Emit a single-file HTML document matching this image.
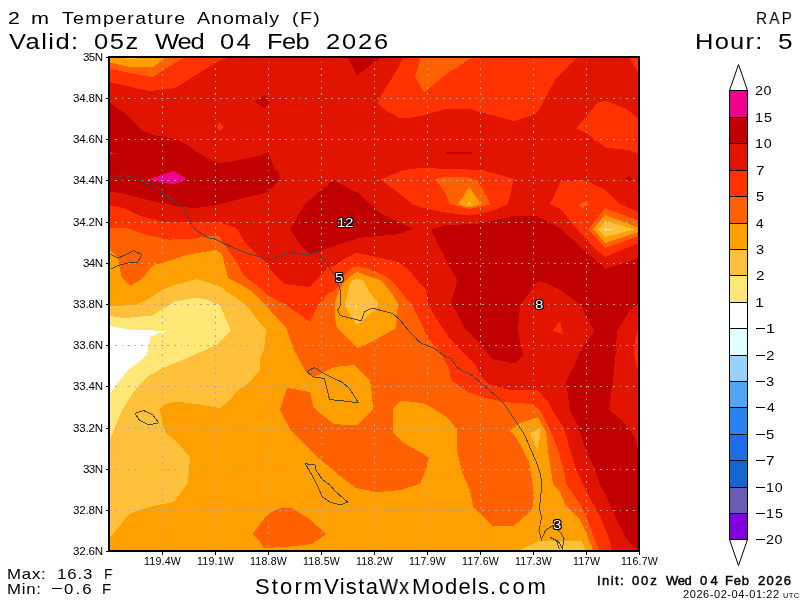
<!DOCTYPE html>
<html><head><meta charset="utf-8"><title>2 m Temperature Anomaly</title>
<style>
html,body{margin:0;padding:0;background:#fff;}
body{width:800px;height:600px;position:relative;overflow:hidden;font-family:"Liberation Sans",sans-serif;color:#000;}
.t{position:absolute;white-space:nowrap;line-height:1;will-change:transform;}
.ax{font-size:10.5px;letter-spacing:-0.2px;}
.cb{font-size:13px;letter-spacing:0.8px;}
.lbl{font-size:13.5px;color:#fff;transform:scaleX(1.12);transform-origin:0 0;text-shadow:-1px 0 #000,1px 0 #000,0 -1px #000,0 1px #000,-1px -1px #000,1px 1px #000,-1px 1px #000,1px -1px #000;}
</style></head><body>
<svg width="800" height="600" viewBox="0 0 800 600" style="position:absolute;left:0;top:0">
<defs><clipPath id="cp"><rect x="110" y="58" width="528" height="492"/></clipPath></defs>
<g clip-path="url(#cp)" shape-rendering="crispEdges">
<rect x="108" y="56" width="532" height="496" fill="#e11400"/>
<polygon fill="#ff3200" points="110,58 228,58 220,60 198,73.6 175,88 160,90 148,91 110,82"/>
<polygon fill="#ff3200" points="403,58 578,58 576,59 556,78 540,108 536,114 514,121 480,112 469,108.6 446,109 420,116 409,118 400,118 382,108 377,102.4 398,68"/>
<polygon fill="#ff3200" points="576,128.4 598,102.4 606,101 626,109 638,118 638,153 628,150 606,147.6 586,133"/>
<polygon fill="#ff3200" points="630,58 638,58 638,73"/>
<polygon fill="#ff3200" points="550,204 561,181 584,180 604,189 620,204 638,212 638,243.3 605.5,256.8 597,251 570,221 561,209"/>
<polygon fill="#ff3200" points="380,179.6 404,170 420,168 482,170 500,175 514,179 508,204 492,211 470,215.6 442,212 420,207 414,205 400,194 388,185"/>
<polygon fill="#ff3200" points="110,205.6 124,208 140,216 164,222.4 220,222.4 236,228 240,234 246,244 260,257 266,262 272,272 284,284 295,285.5 309.5,287 315,281.8 327.6,267.3 335,265.5 344,259 356,253 372,256 381,258 398,262 408,269 419,282 426,290 428,304 436,318 448,336 460,350 476,366 482,378 488,384 508,389.6 538,390 548,402 552,410 564,428 570,450 578,474 590,498 600,516 609,538 612,550 110,550"/>
<polygon fill="#ff3200" points="219.4,122 224,128 219.4,130.6 217,127"/>
<polygon fill="#ff3200" points="560,321 563,334 552.4,331"/>
<polygon fill="#ff3200" points="638,329 635,340 634,354 638,370"/>
<polygon fill="#ff6000" points="110,58 183,58 152,77.4 110,69"/>
<polygon fill="#ff6000" points="420.6,58 475,58 469,59.5 445,75 424.4,92.5 415,77"/>
<polygon fill="#ff6000" points="435,179 444,177 468,177 478,181 491,204.4 480,207 469,209 458,206 450,204.4 446,194"/>
<polygon fill="#ff6000" points="588.2,229.5 605.2,208.2 638,220.5 638,236.2 605.5,248"/>
<polygon fill="#ff6000" points="579.2,204.7 583.5,202 589,204.5 584,206.5 582.5,209 581.5,206.5"/>
<polygon fill="#ff6000" points="110,228 126,228 148,235 168,239.6 192,239 209,236 219,236 228,250 238,264 244,276 260,288 266,294 284,304 310,321.6 318,305 328,293.5 334,291 338,286 343,277 350,269 357,266 370,269 384,275 394,283 402,293 408,301 412,305 420,321 428,338 440,352 449,368 451,380 470,393 486,398 504,402 532,404 540,410 549,428 556,444 564,470 566,484 580,504 588,520 594,538 599,550 110,550"/>
<polygon fill="#ffa000" points="110,58 165,58 153,67 130,67 110,62.4"/>
<polygon fill="#ffc03c" points="126,58 137,58 137,59 126,59"/>
<polygon fill="#ffa000" points="469.4,187 481,204 469,207.6 458,204.4"/>
<polygon fill="#ffa000" points="593,229.5 605.2,215 638,227.5 638,232 605.5,243"/>
<polygon fill="#ffa000" points="357,271.8 371,277 381,280.5 387,287 393,295 398,304 395.8,328.3 375,340 357.5,348.3 336.7,326.7 335,318 335,302 339,291 343,284 349,277"/>
<polygon fill="#ffa000" points="110,250 118,257 120,270 122,278 130,286 142,279 153,265 162,263 186,255 216,250 222,254 228,278 240,284 250,290 260,300 270,310 287,329 293,348 306,372 314,377 322,373 334,367 354,365 370,381 372,394 373,410 393,410 394,407.5 401,401 409,401.5 423,403 434,409 448,418 457,430 457,450 462,472 470,490 473,506 492,526 514,525.6 532,510 534,498 533,486 529,462 520,444 514,434 509,431 518,424 538,417 542,425 546,432 549,458 553,484 560,492 566,506 580,520 585,530 589,540 593,550 110,550"/>
<polygon fill="#ff6000" points="372,410 393,410 393,432 402,442 420,452 429,457 426,470 420,484 400,490 378,492 356,488 340,476 320,459 304,444 290,429 280,410 287,388 310,392 313,406 316,410 334,424 357,425.6"/>
<polygon fill="#ff6000" points="253,534 260,524 268,514 280,508 292,508 308,518 326,534 312,544 286,547 264,548 260,542"/>
<polygon fill="#ffc03c" points="469.4,200.4 472.4,205 466.4,205"/>
<polygon fill="#ffc03c" points="598.2,229.5 605.8,221 634,229.5 605.8,236.8"/>
<polygon fill="#ffc03c" points="357,278.5 363,280 369,291 375,299 379.2,304.5 371.7,312.5 356.7,325.8 344.5,305 346.5,298 349,288 352,280.5"/>
<polygon fill="#ffc03c" points="530,433 539.6,428 540,436 537.6,451"/>
<polygon fill="#ffc03c" points="520,550 540,540.6 582,541 585.6,550"/>
<polygon fill="#ffc03c" points="110,306 136,305 150,298 162,290 174,285 197,279 212,284 220,286 224,290 234,296 248,307 260,323 266,330 264,350 260,358 260,370 248,384 238,390 228,402 220,408 196,404 176,401.6 166,404 158,410 160,410 163,425 166,433 176,441 190,457 188,483 174,502 151,506.4 129,514 114,533 110,537"/>
<polygon fill="#ffe878" points="110,316 124,318 152,315.6 164,308 176,301 196,297.6 204,299 220,305 231,331 216,345 196,354 180,361 163,368 148,376 138,386 131,396 122,410 110,440"/>
<polygon fill="#ffe878" points="604,229.5 606,228 607,229 613,229 613,230 607,230.2 606,231.5"/>
<polygon fill="#ffe878" points="355,305 357,305 357,307 355,307"/>
<polygon fill="#ffffff" points="110,326 130,329.6 168,331 151,336 147,354 142,360 128,370 120,380 110,394"/>
<polygon fill="#c00000" points="110,103 120,110 130,117 140,129 153,135 162,136.4 176,139 186,144 200,154 218,163 228,162 260,156 268,152 275,170 277,170 281,179 266,193 260,194 236,200 212,206 196,208 180,207 148,200 124,193.6 110,191.6"/>
<polygon fill="#c00000" points="348,58 380,58 357,75.6"/>
<polygon fill="#c00000" points="254,101.5 266,95 269.6,102.4 265,108"/>
<polygon fill="#c00000" points="290,229 304,205 333,180 358,193 380,213 413,229 400,234 358,238 320,251 310,255 300,244"/>
<polygon fill="#c00000" points="446,152 470,152 470,151 473,153 470,155 470,154 446,154"/>
<polygon fill="#c00000" points="625,179 629,176 633,179 629,181"/>
<polygon fill="#c00000" points="431,229.4 446,225 478,224 514,215.6 538,216.4 560,228 584,250 606,269 638,258 638,549 632,546 626,538 622,530 616,518 608,500 600,484 594,468 586,450 578,426 570,410 568,396 566,382 574,366 580,352 594,331 580,304 560,290 548,284 538,281 531,290 520,306 518,330 523,355 515,363.6 492,359 480,343 466,330 451,302 455,290 457,280 448,264 440,248"/>
<polygon fill="#e11400" points="638,304 630,310 617,331 616,350 614,370 611,394 609,410 624,422 634,436 638,450"/>
<polygon fill="#ff3200" points="638,329 635,340 634,354 638,370"/>
<polygon fill="#f0008c" points="148,179.6 174,171 187,179 174,184.4"/>
<polygon fill="#f0008c" points="110,152 115,153.5 110,155"/>
</g>
<g clip-path="url(#cp)" stroke="#acacac" stroke-width="1" shape-rendering="crispEdges" fill="none">
<line x1="110" y1="98.5" x2="638" y2="98.5" stroke-dasharray="1.7,4.855" stroke-dashoffset="-5.05"/>
<line x1="110" y1="139.5" x2="638" y2="139.5" stroke-dasharray="1.7,4.855" stroke-dashoffset="-5.05"/>
<line x1="110" y1="180.5" x2="638" y2="180.5" stroke-dasharray="1.7,4.855" stroke-dashoffset="-5.05"/>
<line x1="110" y1="222.5" x2="638" y2="222.5" stroke-dasharray="1.7,4.855" stroke-dashoffset="-5.05"/>
<line x1="110" y1="263.5" x2="638" y2="263.5" stroke-dasharray="1.7,4.855" stroke-dashoffset="-5.05"/>
<line x1="110" y1="304.5" x2="638" y2="304.5" stroke-dasharray="1.7,4.855" stroke-dashoffset="-5.05"/>
<line x1="110" y1="345.5" x2="638" y2="345.5" stroke-dasharray="1.7,4.855" stroke-dashoffset="-5.05"/>
<line x1="110" y1="386.5" x2="638" y2="386.5" stroke-dasharray="1.7,4.855" stroke-dashoffset="-5.05"/>
<line x1="110" y1="428.5" x2="638" y2="428.5" stroke-dasharray="1.7,4.855" stroke-dashoffset="-5.05"/>
<line x1="110" y1="469.5" x2="638" y2="469.5" stroke-dasharray="1.7,4.855" stroke-dashoffset="-5.05"/>
<line x1="110" y1="510.5" x2="638" y2="510.5" stroke-dasharray="1.7,4.855" stroke-dashoffset="-5.05"/>
<line x1="162.5" y1="58" x2="162.5" y2="550" stroke-dasharray="1.7,4.662" stroke-dashoffset="-3.5"/>
<line x1="215.5" y1="58" x2="215.5" y2="550" stroke-dasharray="1.7,4.662" stroke-dashoffset="-3.5"/>
<line x1="268.5" y1="58" x2="268.5" y2="550" stroke-dasharray="1.7,4.662" stroke-dashoffset="-3.5"/>
<line x1="321.5" y1="58" x2="321.5" y2="550" stroke-dasharray="1.7,4.662" stroke-dashoffset="-3.5"/>
<line x1="374.5" y1="58" x2="374.5" y2="550" stroke-dasharray="1.7,4.662" stroke-dashoffset="-3.5"/>
<line x1="427.5" y1="58" x2="427.5" y2="550" stroke-dasharray="1.7,4.662" stroke-dashoffset="-3.5"/>
<line x1="480.5" y1="58" x2="480.5" y2="550" stroke-dasharray="1.7,4.662" stroke-dashoffset="-3.5"/>
<line x1="533.5" y1="58" x2="533.5" y2="550" stroke-dasharray="1.7,4.662" stroke-dashoffset="-3.5"/>
<line x1="586.5" y1="58" x2="586.5" y2="550" stroke-dasharray="1.7,4.662" stroke-dashoffset="-3.5"/>
</g>
<g clip-path="url(#cp)" stroke="#464646" stroke-width="1" fill="none" shape-rendering="crispEdges" transform="translate(0.5,0.5)">
<polyline points="110,180.4 116,176.4 125,175 134,177.4 142,181 158,187.6 164,195 174,200 185,210 189,221 196,230 209,238 215,238.6 230,246 250,254 260,256.4 269,259.4 280,255 292,252 305,254.4 312,252 317,252.6 326,263 334,274 338,284 340,290 340.4,304 337,310 340,315 361,320.4 364,311 372,307.6 392,313 400,320 408,330 420,342.4 434,348 444,355.6 451,358 456,366 462,370.4 472,375 482,384 496,396 504,404 508,410 516,422 524,434 529,446 536,462 540,474 541.4,484 540,498 539,508 541,516 540,524 538.4,530 541,539 545,530 552,525 560,532 563.6,538 562,548 558,541 550,537 556,540 559,549"/>
<polyline points="110,254 118,257.4 133,250.4 141.4,254 137,261.6 128,262.4 118,265 110,268.6"/>
<polyline points="306.4,371 314,367 322,372.4 342,382 349,388 358,402.4 348,401 329,399 324,378 312.4,376.4 306.4,371"/>
<polyline points="134.4,413 143,410 152.4,414.4 158.4,422.4 148,424.4 139,419.6 134.4,413"/>
<polyline points="304.4,462.4 309,464.4 314.4,464.4 315.6,470 322,479 330,485 334,490 344,499 347.4,501.4 340,504.4 330,502 322,496.4 314,479 307,467 304.4,462.4"/>
</g>
<rect x="109" y="57" width="530" height="494" fill="none" stroke="#000" stroke-width="2" shape-rendering="crispEdges"/>
<g stroke="#000" stroke-width="1" shape-rendering="crispEdges">
<line x1="105.5" y1="57.5" x2="108" y2="57.5"/>
<line x1="105.5" y1="98.5" x2="108" y2="98.5"/>
<line x1="105.5" y1="139.5" x2="108" y2="139.5"/>
<line x1="105.5" y1="180.5" x2="108" y2="180.5"/>
<line x1="105.5" y1="222.5" x2="108" y2="222.5"/>
<line x1="105.5" y1="263.5" x2="108" y2="263.5"/>
<line x1="105.5" y1="304.5" x2="108" y2="304.5"/>
<line x1="105.5" y1="345.5" x2="108" y2="345.5"/>
<line x1="105.5" y1="386.5" x2="108" y2="386.5"/>
<line x1="105.5" y1="428.5" x2="108" y2="428.5"/>
<line x1="105.5" y1="469.5" x2="108" y2="469.5"/>
<line x1="105.5" y1="510.5" x2="108" y2="510.5"/>
<line x1="105.5" y1="551.5" x2="108" y2="551.5"/>
<line x1="162.5" y1="552" x2="162.5" y2="554.5"/>
<line x1="215.5" y1="552" x2="215.5" y2="554.5"/>
<line x1="268.5" y1="552" x2="268.5" y2="554.5"/>
<line x1="321.5" y1="552" x2="321.5" y2="554.5"/>
<line x1="374.5" y1="552" x2="374.5" y2="554.5"/>
<line x1="427.5" y1="552" x2="427.5" y2="554.5"/>
<line x1="480.5" y1="552" x2="480.5" y2="554.5"/>
<line x1="533.5" y1="552" x2="533.5" y2="554.5"/>
<line x1="586.5" y1="552" x2="586.5" y2="554.5"/>
<line x1="639.5" y1="552" x2="639.5" y2="554.5"/>
</g>
<g stroke="#000" stroke-width="1" shape-rendering="crispEdges">
<rect x="729.5" y="90.5" width="18" height="27" fill="#f0008c"/>
<rect x="729.5" y="117.5" width="18" height="26" fill="#c00000"/>
<rect x="729.5" y="143.5" width="18" height="27" fill="#e11400"/>
<rect x="729.5" y="170.5" width="18" height="26" fill="#ff3200"/>
<rect x="729.5" y="196.5" width="18" height="27" fill="#ff6000"/>
<rect x="729.5" y="223.5" width="18" height="26" fill="#ffa000"/>
<rect x="729.5" y="249.5" width="18" height="26" fill="#ffc03c"/>
<rect x="729.5" y="275.5" width="18" height="27" fill="#ffe878"/>
<rect x="729.5" y="302.5" width="18" height="26" fill="#ffffff"/>
<rect x="729.5" y="328.5" width="18" height="27" fill="#e1ffff"/>
<rect x="729.5" y="355.5" width="18" height="26" fill="#96d2fa"/>
<rect x="729.5" y="381.5" width="18" height="26" fill="#50a5f5"/>
<rect x="729.5" y="407.5" width="18" height="27" fill="#2882f0"/>
<rect x="729.5" y="434.5" width="18" height="26" fill="#1e6eeb"/>
<rect x="729.5" y="460.5" width="18" height="27" fill="#1464d2"/>
<rect x="729.5" y="487.5" width="18" height="26" fill="#6a5cb4"/>
<rect x="729.5" y="513.5" width="18" height="26" fill="#8200dc"/>
</g>
<g stroke="#000" stroke-width="1" fill="#fff">
<polygon points="729.5,90.5 738.5,64.5 747.5,90.5"/>
<polygon points="729.5,539.5 738.5,565.5 747.5,539.5"/>
</g>
</svg>
<div class="t" style="left:7.69px;top:10.49px;font-size:17px;letter-spacing:0.00px;transform:scaleX(1.247);transform-origin:0 0;">2</div>
<div class="t" style="left:31.34px;top:10.49px;font-size:17px;letter-spacing:0.00px;transform:scaleX(1.272);transform-origin:0 0;">m</div>
<div class="t" style="left:62.11px;top:10.49px;font-size:17px;letter-spacing:1.16px;transform:scaleX(1.150);transform-origin:0 0;">Temperature</div>
<div class="t" style="left:196.90px;top:10.49px;font-size:17px;letter-spacing:0.88px;transform:scaleX(1.150);transform-origin:0 0;">Anomaly</div>
<div class="t" style="left:291.83px;top:10.49px;font-size:17px;letter-spacing:1.23px;transform:scaleX(1.150);transform-origin:0 0;">(F)</div>
<div class="t" style="left:9.00px;top:30.61px;font-size:22.2px;letter-spacing:1.26px;transform:scaleX(1.150);transform-origin:0 0;">Valid:</div>
<div class="t" style="left:94.11px;top:30.61px;font-size:22.2px;letter-spacing:1.39px;transform:scaleX(1.150);transform-origin:0 0;">05z</div>
<div class="t" style="left:155.00px;top:30.61px;font-size:22.2px;letter-spacing:-1.05px;transform:scaleX(1.150);transform-origin:0 0;">Wed</div>
<div class="t" style="left:220.11px;top:30.61px;font-size:22.2px;letter-spacing:1.91px;transform:scaleX(1.150);transform-origin:0 0;">04</div>
<div class="t" style="left:266.96px;top:30.61px;font-size:22.2px;letter-spacing:-0.54px;transform:scaleX(1.150);transform-origin:0 0;">Feb</div>
<div class="t" style="left:325.97px;top:30.61px;font-size:22.2px;letter-spacing:1.58px;transform:scaleX(1.150);transform-origin:0 0;">2026</div>
<div class="t" style="left:756.48px;top:10.49px;font-size:17px;letter-spacing:2.42px;transform:scaleX(0.900);transform-origin:0 0;">RAP</div>
<div class="t" style="left:694.86px;top:30.61px;font-size:22.2px;letter-spacing:1.06px;transform:scaleX(1.150);transform-origin:0 0;">Hour:</div>
<div class="t" style="left:777.95px;top:30.61px;font-size:22.2px;letter-spacing:0.00px;transform:scaleX(1.185);transform-origin:0 0;">5</div>
<div class="t" style="left:83.44px;top:51.29px;font-size:11.6px;letter-spacing:-0.60px;">35N</div>
<div class="t" style="left:73.44px;top:92.29px;font-size:11.6px;letter-spacing:-0.22px;">34.8N</div>
<div class="t" style="left:73.44px;top:133.29px;font-size:11.6px;letter-spacing:-0.22px;">34.6N</div>
<div class="t" style="left:73.44px;top:174.29px;font-size:11.6px;letter-spacing:-0.22px;">34.4N</div>
<div class="t" style="left:73.44px;top:216.29px;font-size:11.6px;letter-spacing:-0.22px;">34.2N</div>
<div class="t" style="left:83.44px;top:257.29px;font-size:11.6px;letter-spacing:-0.60px;">34N</div>
<div class="t" style="left:73.44px;top:298.29px;font-size:11.6px;letter-spacing:-0.22px;">33.8N</div>
<div class="t" style="left:73.44px;top:339.29px;font-size:11.6px;letter-spacing:-0.22px;">33.6N</div>
<div class="t" style="left:73.44px;top:380.29px;font-size:11.6px;letter-spacing:-0.22px;">33.4N</div>
<div class="t" style="left:73.44px;top:422.29px;font-size:11.6px;letter-spacing:-0.22px;">33.2N</div>
<div class="t" style="left:83.44px;top:463.29px;font-size:11.6px;letter-spacing:-0.60px;">33N</div>
<div class="t" style="left:73.44px;top:504.29px;font-size:11.6px;letter-spacing:-0.22px;">32.8N</div>
<div class="t" style="left:73.44px;top:545.29px;font-size:11.6px;letter-spacing:-0.22px;">32.6N</div>
<div class="t" style="left:144.01px;top:556.22px;font-size:10.6px;letter-spacing:0.20px;">119.4W</div>
<div class="t" style="left:197.01px;top:556.22px;font-size:10.6px;letter-spacing:0.20px;">119.1W</div>
<div class="t" style="left:250.01px;top:556.22px;font-size:10.6px;letter-spacing:0.20px;">118.8W</div>
<div class="t" style="left:303.00px;top:556.22px;font-size:10.6px;letter-spacing:0.20px;">118.5W</div>
<div class="t" style="left:356.00px;top:556.22px;font-size:10.6px;letter-spacing:0.20px;">118.2W</div>
<div class="t" style="left:409.00px;top:556.22px;font-size:10.6px;letter-spacing:0.20px;">117.9W</div>
<div class="t" style="left:462.00px;top:556.22px;font-size:10.6px;letter-spacing:0.20px;">117.6W</div>
<div class="t" style="left:515.00px;top:556.22px;font-size:10.6px;letter-spacing:0.20px;">117.3W</div>
<div class="t" style="left:572.86px;top:556.22px;font-size:10.6px;letter-spacing:0.06px;">117W</div>
<div class="t" style="left:621.00px;top:556.22px;font-size:10.6px;letter-spacing:0.20px;">116.7W</div>
<div class="t" style="left:755.28px;top:83.91px;font-size:13px;letter-spacing:0.49px;transform:scaleX(1.100);transform-origin:0 0;">20</div>
<div class="t" style="left:754.93px;top:110.91px;font-size:13px;letter-spacing:0.88px;transform:scaleX(1.100);transform-origin:0 0;">15</div>
<div class="t" style="left:754.93px;top:136.91px;font-size:13px;letter-spacing:0.82px;transform:scaleX(1.100);transform-origin:0 0;">10</div>
<div class="t" style="left:755.74px;top:163.91px;font-size:13px;letter-spacing:0.00px;transform:scaleX(1.171);transform-origin:0 0;">7</div>
<div class="t" style="left:755.91px;top:189.91px;font-size:13px;letter-spacing:0.00px;transform:scaleX(1.134);transform-origin:0 0;">5</div>
<div class="t" style="left:756.23px;top:216.91px;font-size:13px;letter-spacing:0.00px;transform:scaleX(1.056);transform-origin:0 0;">4</div>
<div class="t" style="left:755.99px;top:242.91px;font-size:13px;letter-spacing:0.00px;transform:scaleX(1.122);transform-origin:0 0;">3</div>
<div class="t" style="left:755.74px;top:268.91px;font-size:13px;letter-spacing:0.00px;transform:scaleX(1.171);transform-origin:0 0;">2</div>
<div class="t" style="left:755.29px;top:295.91px;font-size:13px;letter-spacing:0.00px;transform:scaleX(1.238);transform-origin:0 0;">1</div>
<div style="position:absolute;left:756px;top:328px;width:9px;height:1px;background:#000"></div>
<div class="t" style="left:765.79px;top:321.91px;font-size:13px;letter-spacing:0.00px;transform:scaleX(1.238);transform-origin:0 0;">1</div>
<div style="position:absolute;left:756px;top:355px;width:9px;height:1px;background:#000"></div>
<div class="t" style="left:766.24px;top:348.91px;font-size:13px;letter-spacing:0.00px;transform:scaleX(1.171);transform-origin:0 0;">2</div>
<div style="position:absolute;left:756px;top:381px;width:9px;height:1px;background:#000"></div>
<div class="t" style="left:766.49px;top:374.91px;font-size:13px;letter-spacing:0.00px;transform:scaleX(1.122);transform-origin:0 0;">3</div>
<div style="position:absolute;left:756px;top:407px;width:9px;height:1px;background:#000"></div>
<div class="t" style="left:766.73px;top:400.91px;font-size:13px;letter-spacing:0.00px;transform:scaleX(1.056);transform-origin:0 0;">4</div>
<div style="position:absolute;left:756px;top:434px;width:9px;height:1px;background:#000"></div>
<div class="t" style="left:766.41px;top:427.91px;font-size:13px;letter-spacing:0.00px;transform:scaleX(1.134);transform-origin:0 0;">5</div>
<div style="position:absolute;left:756px;top:460px;width:9px;height:1px;background:#000"></div>
<div class="t" style="left:766.24px;top:453.91px;font-size:13px;letter-spacing:0.00px;transform:scaleX(1.171);transform-origin:0 0;">7</div>
<div style="position:absolute;left:756px;top:487px;width:9px;height:1px;background:#000"></div>
<div class="t" style="left:765.93px;top:480.91px;font-size:13px;letter-spacing:0.82px;transform:scaleX(1.100);transform-origin:0 0;">10</div>
<div style="position:absolute;left:756px;top:513px;width:9px;height:1px;background:#000"></div>
<div class="t" style="left:765.93px;top:506.91px;font-size:13px;letter-spacing:0.88px;transform:scaleX(1.100);transform-origin:0 0;">15</div>
<div style="position:absolute;left:756px;top:539px;width:9px;height:1px;background:#000"></div>
<div class="t" style="left:766.28px;top:532.91px;font-size:13px;letter-spacing:0.49px;transform:scaleX(1.100);transform-origin:0 0;">20</div>
<div class="t" style="left:7.36px;top:566.35px;font-size:15px;letter-spacing:0.71px;transform:scaleX(1.120);transform-origin:0 0;">Max:</div>
<div class="t" style="left:57.24px;top:566.35px;font-size:15px;letter-spacing:0.76px;transform:scaleX(1.120);transform-origin:0 0;">16.3</div>
<div class="t" style="left:103.86px;top:566.35px;font-size:15px;letter-spacing:0.00px;transform:scaleX(0.920);transform-origin:0 0;">F</div>
<div class="t" style="left:7.36px;top:581.45px;font-size:15px;letter-spacing:0.64px;transform:scaleX(1.120);transform-origin:0 0;">Min:</div>
<div style="position:absolute;left:52px;top:588px;width:10px;height:1px;background:#000"></div>
<div class="t" style="left:63.91px;top:581.45px;font-size:15px;letter-spacing:1.86px;transform:scaleX(1.120);transform-origin:0 0;">0.6</div>
<div class="t" style="left:102.34px;top:581.45px;font-size:15px;letter-spacing:0.00px;transform:scaleX(0.970);transform-origin:0 0;">F</div>
<div class="t" style="left:254.61px;top:575.74px;font-size:22px;letter-spacing:2.12px;">Storm</div>
<div class="t" style="left:323.60px;top:575.74px;font-size:22px;letter-spacing:1.35px;">Vista</div>
<div class="t" style="left:378.94px;top:575.74px;font-size:22px;letter-spacing:0.00px;transform:scaleX(0.920);transform-origin:0 0;">W</div>
<div class="t" style="left:399.19px;top:575.74px;font-size:22px;letter-spacing:0.00px;transform:scaleX(0.920);transform-origin:0 0;">x</div>
<div class="t" style="left:411.84px;top:575.74px;font-size:22px;letter-spacing:1.20px;">Models</div>
<div class="t" style="left:490.02px;top:575.74px;font-size:22px;letter-spacing:2.69px;">.com</div>
<div class="t" style="left:597.23px;top:573.81px;font-size:13px;letter-spacing:1.44px;-webkit-text-stroke:0.45px #000;">Init:</div>
<div class="t" style="left:631.54px;top:573.81px;font-size:13px;letter-spacing:1.86px;-webkit-text-stroke:0.45px #000;">00z</div>
<div class="t" style="left:666.00px;top:573.81px;font-size:13px;letter-spacing:-0.34px;-webkit-text-stroke:0.45px #000;">Wed</div>
<div class="t" style="left:699.54px;top:573.81px;font-size:13px;letter-spacing:3.35px;-webkit-text-stroke:0.45px #000;">04</div>
<div class="t" style="left:725.46px;top:573.81px;font-size:13px;letter-spacing:0.75px;-webkit-text-stroke:0.45px #000;">Feb</div>
<div class="t" style="left:758.35px;top:573.81px;font-size:13px;letter-spacing:1.35px;-webkit-text-stroke:0.45px #000;">2026</div>
<div class="t" style="left:683.45px;top:589.17px;font-size:11px;letter-spacing:0.57px;">2026-02-04-01:22</div>
<div class="t" style="left:783.43px;top:591.81px;font-size:7.6px;letter-spacing:0.36px;">UTC</div>
<div class="t lbl" style="left:337.3px;top:215.6px;letter-spacing:-0.3px;">12</div>
<div class="t lbl" style="left:334.8px;top:270.8px;">5</div>
<div class="t lbl" style="left:534.6px;top:297.8px;">8</div>
<div class="t lbl" style="left:552.6px;top:517.6px;">3</div>
</body></html>
